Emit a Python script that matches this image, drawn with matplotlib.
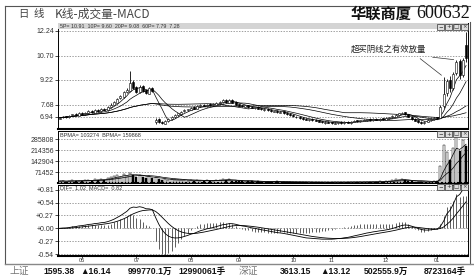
import numpy as np
import pandas as pd
import matplotlib
matplotlib.use('Agg')
import matplotlib.pyplot as plt
from matplotlib.lines import Line2D
from matplotlib.patches import Rectangle
from matplotlib.ticker import FixedLocator, FuncFormatter

plt.rcParams['font.family'] = ['Liberation Sans', 'Noto Sans CJK SC', 'DejaVu Sans']

# ---- 日K线数据 (128根) ----
opens = [6.82, 6.90, 6.98, 6.90, 7.04, 7.12, 7.02, 7.20,
         7.10, 7.18, 7.30, 7.20, 7.38, 7.28, 7.45, 7.36,
         7.52, 7.68, 7.82, 8.08, 8.18, 8.48, 8.55, 9.10,
         8.78, 8.45, 8.85, 8.58, 8.38, 8.72, 6.60, 6.78,
         6.65, 6.52, 6.66, 6.78, 6.92, 7.08, 7.12, 7.28,
         7.36, 7.38, 7.54, 7.44, 7.58, 7.70, 7.60, 7.72,
         7.64, 7.70, 7.78, 7.86, 7.98, 7.82, 8.00, 7.84,
         7.72, 7.64, 7.56, 7.66, 7.56, 7.48, 7.54, 7.46,
         7.36, 7.44, 7.36, 7.26, 7.30, 7.20, 7.27, 7.18,
         7.12, 7.06, 6.96, 6.94, 6.86, 6.82, 6.72, 6.80,
         6.74, 6.72, 6.66, 6.56, 6.64, 6.60, 6.52, 6.56,
         6.62, 6.54, 6.64, 6.56, 6.64, 6.72, 6.66, 6.70,
         6.74, 6.80, 6.72, 6.82, 6.74, 6.84, 6.76, 6.84,
         6.90, 6.96, 7.06, 7.14, 7.22, 7.10, 6.96, 6.82,
         6.72, 6.64, 6.56, 6.64, 6.74, 6.80, 6.90, 6.88,
         7.60, 8.40, 9.20, 8.72, 9.62, 10.40, 9.55, 11.40]
closes = [6.88, 6.95, 6.92, 7.02, 7.10, 7.05, 7.18, 7.12,
          7.20, 7.28, 7.22, 7.35, 7.30, 7.42, 7.38, 7.55,
          7.70, 7.85, 8.05, 8.20, 8.45, 8.60, 9.05, 8.75,
          8.50, 8.80, 8.55, 8.40, 8.70, 8.55, 6.75, 6.62,
          6.55, 6.68, 6.80, 6.95, 7.05, 7.15, 7.25, 7.35,
          7.40, 7.50, 7.45, 7.60, 7.68, 7.62, 7.70, 7.66,
          7.72, 7.80, 7.88, 7.95, 7.85, 7.98, 7.82, 7.70,
          7.62, 7.58, 7.65, 7.55, 7.50, 7.52, 7.45, 7.40,
          7.42, 7.35, 7.30, 7.28, 7.22, 7.25, 7.18, 7.10,
          7.05, 6.98, 6.92, 6.85, 6.80, 6.76, 6.78, 6.72,
          6.70, 6.65, 6.60, 6.62, 6.58, 6.55, 6.58, 6.60,
          6.56, 6.62, 6.58, 6.65, 6.70, 6.68, 6.72, 6.75,
          6.78, 6.74, 6.80, 6.76, 6.82, 6.78, 6.85, 6.90,
          6.98, 7.08, 7.15, 7.20, 7.12, 6.95, 6.80, 6.70,
          6.62, 6.58, 6.65, 6.75, 6.82, 6.88, 6.85, 7.55,
          8.35, 9.18, 8.70, 9.60, 10.35, 9.55, 10.45, 10.60]
highs = [6.92, 7.00, 7.02, 7.06, 7.14, 7.16, 7.22, 7.24,
         7.26, 7.34, 7.36, 7.40, 7.42, 7.48, 7.50, 7.60,
         7.78, 7.92, 8.12, 8.30, 8.52, 8.70, 9.75, 9.20,
         8.85, 8.90, 8.92, 8.65, 8.78, 8.80, 6.85, 6.85,
         6.70, 6.72, 6.85, 7.00, 7.10, 7.20, 7.30, 7.42,
         7.45, 7.56, 7.58, 7.66, 7.74, 7.75, 7.76, 7.78,
         7.78, 7.86, 7.94, 8.05, 8.02, 8.04, 8.06, 7.90,
         7.76, 7.68, 7.70, 7.70, 7.60, 7.56, 7.58, 7.50,
         7.46, 7.48, 7.40, 7.32, 7.34, 7.30, 7.30, 7.22,
         7.15, 7.10, 7.00, 6.98, 6.90, 6.86, 6.82, 6.84,
         6.78, 6.75, 6.70, 6.66, 6.68, 6.64, 6.62, 6.64,
         6.66, 6.66, 6.68, 6.70, 6.74, 6.76, 6.76, 6.80,
         6.82, 6.84, 6.84, 6.86, 6.86, 6.88, 6.90, 6.95,
         7.04, 7.12, 7.20, 7.26, 7.25, 7.14, 7.00, 6.85,
         6.76, 6.68, 6.70, 6.80, 6.86, 6.92, 6.94, 7.65,
         9.40, 9.30, 9.45, 9.70, 10.45, 10.50, 10.55, 12.20]
lows = [6.78, 6.86, 6.88, 6.86, 7.00, 7.00, 6.98, 7.08,
        7.06, 7.14, 7.18, 7.16, 7.26, 7.24, 7.34, 7.32,
        7.48, 7.64, 7.78, 8.02, 8.12, 8.42, 8.50, 8.68,
        8.44, 8.40, 8.48, 8.34, 8.32, 8.48, 6.52, 6.55,
        6.48, 6.48, 6.62, 6.74, 6.88, 7.02, 7.08, 7.24,
        7.32, 7.34, 7.40, 7.40, 7.54, 7.58, 7.56, 7.62,
        7.60, 7.66, 7.74, 7.82, 7.80, 7.78, 7.78, 7.66,
        7.58, 7.54, 7.52, 7.50, 7.46, 7.44, 7.40, 7.36,
        7.32, 7.32, 7.26, 7.22, 7.18, 7.16, 7.14, 7.06,
        7.00, 6.94, 6.88, 6.82, 6.76, 6.72, 6.68, 6.68,
        6.66, 6.62, 6.56, 6.52, 6.54, 6.50, 6.48, 6.52,
        6.52, 6.50, 6.54, 6.52, 6.60, 6.64, 6.62, 6.66,
        6.70, 6.70, 6.68, 6.72, 6.70, 6.74, 6.72, 6.80,
        6.86, 6.92, 7.02, 7.10, 7.08, 6.92, 6.76, 6.66,
        6.58, 6.52, 6.52, 6.60, 6.70, 6.76, 6.80, 6.86,
        7.50, 8.20, 8.45, 8.60, 9.50, 9.30, 9.40, 10.30]
volumes = [12000, 15000, 9000, 14000, 18000, 11000, 16000, 13000,
           17000, 21000, 14000, 24000, 19000, 26000, 22000, 30000,
           38000, 45000, 52000, 40000, 58000, 48000, 66000, 55000,
           42000, 50000, 38000, 35000, 44000, 30000, 36000, 28000,
           22000, 25000, 18000, 24000, 20000, 17000, 21000, 19000,
           16000, 18000, 14000, 20000, 15000, 13000, 17000, 12000,
           16000, 22000, 19000, 26000, 18000, 24000, 15000, 13000,
           11000, 12000, 9000, 13000, 10000, 8000, 11000, 9000,
           7000, 9000, 8000, 6000, 10000, 7000, 8000, 6000,
           7000, 5000, 8000, 6000, 5000, 7000, 4000, 6000,
           5000, 4000, 6000, 5000, 4000, 7000, 5000, 4000,
           6000, 5000, 7000, 6000, 8000, 5000, 7000, 6000,
           8000, 6000, 9000, 7000, 10000, 8000, 12000, 15000,
           22000, 26000, 20000, 24000, 18000, 14000, 10000, 8000,
           7000, 6000, 8000, 9000, 7000, 10000, 12000, 110000,
           250000, 200000, 150000, 230000, 300000, 210000, 280000, 240000]

month_starts = [7, 24, 41, 56, 73, 85, 102, 118]
month_labels = ['06', '07', '08', '09', '10', '11', '12', '01']
price_ticks = [6.94, 7.68, 9.22, 10.70, 12.24]
vol_ticks = [71452, 142904, 214356, 285808]
macd_ticks = [-0.54, -0.27, 0.00, 0.27, 0.54, 0.81]

status_texts = ['上证', '1595.38', '▲16.14', '999770.1万', '12990061手',
                '深证', '3613.15', '▲13.12', '502555.9万', '8723164手']

W, H = 474, 275
fig = plt.figure(figsize=(W / 100, H / 100), dpi=100)
fig.patch.set_facecolor('white')


def box(x0, y0, x1, y1):
    return [x0 / W, 1 - y1 / H, (x1 - x0) / W, (y1 - y0) / H]


def fxy(x, y):
    return x / W, 1 - y / H


ax_p = fig.add_axes(box(58, 23, 468, 129))
ax_v = fig.add_axes(box(58, 131, 468, 183), sharex=ax_p)
ax_m = fig.add_axes(box(58, 185, 468, 256), sharex=ax_p)

o = np.array(opens)
c = np.array(closes)
hi = np.array(highs)
lo = np.array(lows)
vol = np.array(volumes)
x = np.arange(len(c))
up = c >= o

# 价格面板
ax_p.vlines(x, lo, hi, color='black', lw=0.6, zorder=3)
body = np.maximum(np.abs(c - o), 0.02)
ax_p.bar(x, body, bottom=np.minimum(o, c), width=0.62,
         color=np.where(up, 'white', 'black'), edgecolor='black', lw=0.4, zorder=4)
cs = pd.Series(c)
for n in [5, 10, 30, 60]:
    ax_p.plot(x, cs.rolling(n, min_periods=1).mean(), color='black', lw=0.5, zorder=2)
ax_p.set_ylim(6.19, 12.73)
ax_p.yaxis.set_major_locator(FixedLocator(price_ticks))
ax_p.yaxis.set_major_formatter(FuncFormatter(lambda v, p: f'{v:.2f}'))

# 成交量面板
ax_v.bar(x, vol, width=0.62, color=np.where(up, 'white', 'black'),
         edgecolor='black', lw=0.35, zorder=3)
vs = pd.Series(vol)
for n in [5, 10]:
    ax_v.plot(x, vs.rolling(n, min_periods=1).mean(), color='black', lw=0.5, zorder=4)
ax_v.set_ylim(0, 338000)
ax_v.yaxis.set_major_locator(FixedLocator(vol_ticks))
ax_v.yaxis.set_major_formatter(FuncFormatter(lambda v, p: f'{int(v)}'))

# MACD面板
ema12 = cs.ewm(span=12, adjust=False).mean()
ema26 = cs.ewm(span=26, adjust=False).mean()
dif = ema12 - ema26
dea = dif.ewm(span=9, adjust=False).mean()
hist = 2 * (dif - dea)
ax_m.vlines(x, 0, hist, color='#444444', lw=0.6, zorder=2)
ax_m.plot(x, dif, color='black', lw=0.6, zorder=3)
ax_m.plot(x, dea, color='black', lw=0.6, zorder=3)
ax_m.set_ylim(-0.58, 0.91)
ax_m.yaxis.set_major_locator(FixedLocator(macd_ticks))
ax_m.yaxis.set_major_formatter(FuncFormatter(lambda v, p: f'{v:+.2f}'))

ax_m.set_xlim(-0.5, len(c) - 0.4)
ax_m.xaxis.set_major_locator(FixedLocator(month_starts))
ax_m.set_xticklabels(month_labels)

for ax in (ax_p, ax_v, ax_m):
    ax.set_facecolor('white')
    ax.yaxis.grid(True, linestyle=(0, (2, 2)), color='#777777', lw=0.5)
    ax.set_axisbelow(True)
    ax.tick_params(axis='y', length=2, width=0.5, pad=1, labelsize=5, labelcolor='#333333')
    for s in ax.spines.values():
        s.set_linewidth(0.7)
    ax.spines['bottom'].set_linewidth(1.5)
ax_p.tick_params(axis='x', bottom=False, labelbottom=False)
ax_v.tick_params(axis='x', bottom=False, labelbottom=False)
ax_m.tick_params(axis='x', length=1.5, width=0.5, pad=0.3, labelsize=4, labelcolor='#333333')

# 面板顶部指标说明
ax_p.add_patch(Rectangle((0, 1 - 6 / 106), 1, 6 / 106, transform=ax_p.transAxes,
                         facecolor='#d4d4d4', edgecolor='none', zorder=5))
ax_p.text(0.005, 1 - 3 / 106, '5P= 10.91  10P= 9.60  20P= 9.08  60P= 7.79  7.28',
          transform=ax_p.transAxes, fontsize=3.8, color='#333333', va='center', zorder=6)
ax_v.text(0.005, 1 - 2 / 52, 'BPMA= 103274  BPMA= 159868', transform=ax_v.transAxes,
          fontsize=4, color='#333333', va='top', zorder=6)
ax_m.text(0.005, 1 - 1 / 71, 'DIF=  1.02  MACD=  0.82', transform=ax_m.transAxes,
          fontsize=4, color='#333333', va='top', zorder=6)

# 标注
cjk = ['Noto Sans CJK SC', 'DejaVu Sans']
ax_p.text(0.805, 0.755, '超买阴线之有效放量', transform=ax_p.transAxes, fontsize=6,
          family=cjk, ha='center', va='center', color='#222222')
for i, xt in [(120, 0.878), (124, 0.907)]:
    ax_p.annotate('', xy=(i, highs[i]), xytext=(xt, 0.68), textcoords='axes fraction',
                  arrowprops=dict(arrowstyle='-', lw=0.5, color='#333333'))

# 右上角按钮
for ytop in (24, 131, 184):
    for k, g in enumerate(['−', '+', '□', '×']):
        x0 = 437 + k * 8
        fig.add_artist(Rectangle(fxy(x0, ytop + 6), 7 / W, 6 / H, transform=fig.transFigure,
                                 facecolor='#dddddd', edgecolor='#333333', lw=0.5))
        fig.text(*fxy(x0 + 3.5, ytop + 3), g, fontsize=4, ha='center', va='center',
                 family=['DejaVu Sans'], color='#333333')

# 外框
for (x0, y0, x1, y1, col, lw) in [(5, 6, 470, 6, '#555555', 0.8), (5, 6, 5, 264, '#555555', 0.8),
                                  (470, 22, 470, 264, '#555555', 0.8), (5, 264, 474, 264, '#888888', 1.0)]:
    fig.add_artist(Line2D([x0 / W, x1 / W], [1 - y0 / H, 1 - y1 / H],
                          transform=fig.transFigure, color=col, lw=lw))

# 标题
fig.text(*fxy(18, 14), '日', fontsize=7.5, family=cjk, color='#444444', va='center')
fig.text(*fxy(34, 14), '线', fontsize=7.5, family=cjk, color='#444444', va='center')
fig.text(*fxy(55, 14), 'K线-成交量-MACD', fontsize=8.5, family=cjk, color='#444444', va='center')
fig.text(*fxy(351, 13.5), '华联商厦', fontsize=11, family=cjk, weight='bold', color='#111111', va='center')
fig.text(*fxy(416, 13.5), '600632', fontsize=13, family=['Liberation Serif', 'DejaVu Serif'],
         color='#111111', va='center')

# 底部状态栏
status_x = [10, 43, 80, 128, 178, 239, 280, 320, 364, 424]
for t, sx in zip(status_texts, status_x):
    gray = t in ('上证', '深证')
    fig.text(*fxy(sx, 271), t, fontsize=7 if gray else 6.2, weight='normal' if gray else 'bold',
             color='#777777' if gray else '#111111', va='center',
             family=cjk if gray else ['Liberation Sans', 'Noto Sans CJK SC', 'DejaVu Sans'])

fig.savefig('out.png', dpi=100, facecolor='white')
